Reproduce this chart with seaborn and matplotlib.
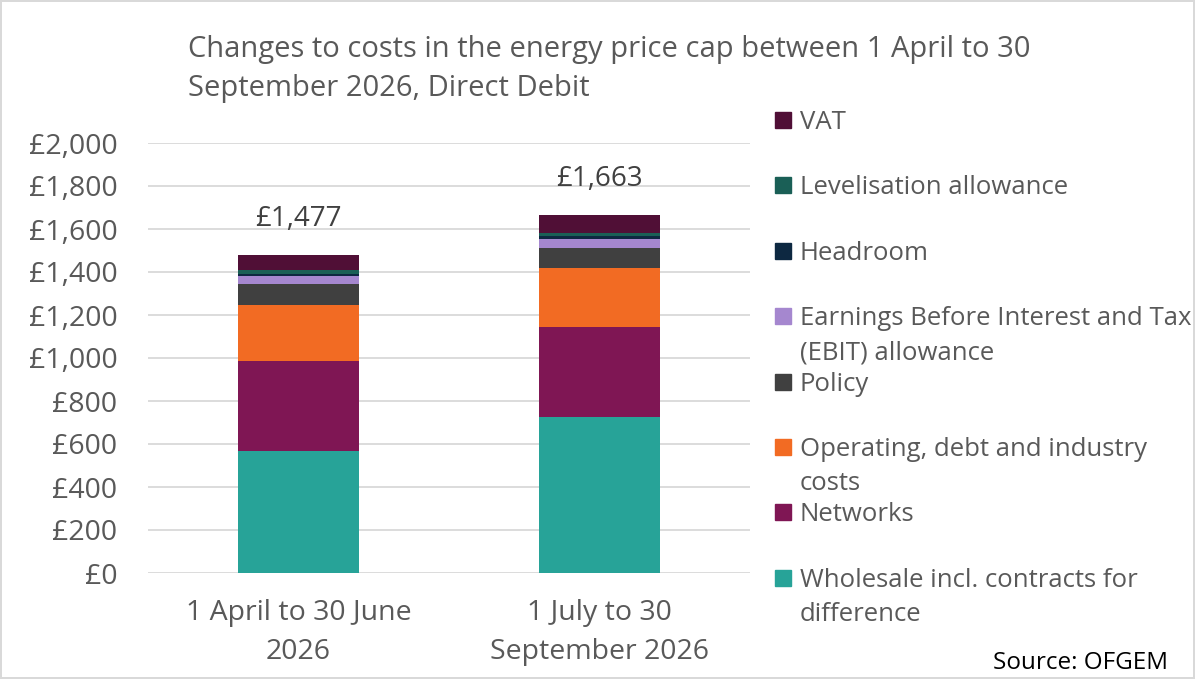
import matplotlib
matplotlib.use("Agg")
import matplotlib.pyplot as plt
from matplotlib.patches import Rectangle
import numpy as np
import pandas as pd
import seaborn as sns

periods = ["1 April to 30 June\n2026", "1 July to 30\nSeptember 2026"]
components = [
    "Wholesale incl. contracts for\ndifference",
    "Networks",
    "Operating, debt and industry\ncosts",
    "Policy",
    "Earnings Before Interest and Tax\n(EBIT) allowance",
    "Headroom",
    "Levelisation allowance",
    "VAT",
]
wholesale = [567, 725]
networks = [419, 419]
operating = [262, 274]
policy = [97, 95]
ebit = [36, 41]
headroom = [12, 12]
levelisation = [14, 15]
vat = [70, 82]
totals_text = ["£1,477", "£1,663"]

colours = ["#27A398", "#7F1654", "#F26B23", "#404040",
           "#A587CF", "#0D2841", "#1A5F56", "#500F36"]

series = [wholesale, networks, operating, policy, ebit, headroom, levelisation, vat]
cum = np.cumsum(np.array(series), axis=0)

sns.set_theme(style="white")
plt.rcParams["font.family"] = ["Open Sans", "DejaVu Sans"]
grey = "#595959"

fig = plt.figure(figsize=(11.95, 6.79), dpi=100)
fig.patch.set_edgecolor("#D9D9D9")
fig.patch.set_linewidth(1.5)
ax = fig.add_axes([148 / 1195, 1 - 573 / 679, 602 / 1195, 430 / 679])

# overlay cumulative bars from the top layer down
for i in range(len(series) - 1, -1, -1):
    df = pd.DataFrame({"period": periods, "value": cum[i]})
    sns.barplot(data=df, x="period", y="value", color=colours[i], width=0.4,
                saturation=1, linewidth=0, ax=ax, zorder=3)

ax.set_xlim(-0.5, 1.5)
ax.set_ylim(0, 2000)
ax.set_yticks(range(0, 2001, 200))
ax.set_yticklabels([f"£{v:,}" for v in range(0, 2001, 200)])
ax.yaxis.grid(True, color="#D9D9D9", linewidth=1.3, zorder=0)
ax.set_axisbelow(True)
for s in ax.spines.values():
    s.set_visible(False)
ax.set_xlabel("")
ax.set_ylabel("")
ax.tick_params(axis="y", labelsize=20.5, colors=grey, pad=22, length=0)
ax.tick_params(axis="x", labelsize=20.5, colors=grey, pad=19, length=0)
for lbl in ax.get_xticklabels():
    lbl.set_linespacing(1.5)

for j, t in enumerate(totals_text):
    ax.annotate(t, (j, cum[-1][j]), xytext=(0, 26), textcoords="offset points",
                ha="center", va="center", fontsize=20, color="#404040")

fig.text(188 / 1195, 1 - 69 / 679,
         "Changes to costs in the energy price cap between 1 April to 30\nSeptember 2026, Direct Debit",
         ha="left", va="center", fontsize=21, color=grey, linespacing=1.42)

# legend, top entry is VAT
for k, i in enumerate(range(len(components) - 1, -1, -1)):
    y = 1 - (120 + k * 65.4) / 679
    fig.patches.append(Rectangle((775 / 1195, y - 8 / 679), 16 / 1195, 16 / 679,
                                 transform=fig.transFigure, color=colours[i]))
    fig.text(800 / 1195, y + 10 / 679, components[i], ha="left", va="top",
             fontsize=18.5, color=grey, linespacing=1.5)

fig.text(1168 / 1195, 1 - 663 / 679, "Source: OFGEM", ha="right", va="center",
         fontsize=17.5, color="black")

fig.savefig("out.png", dpi=100)
